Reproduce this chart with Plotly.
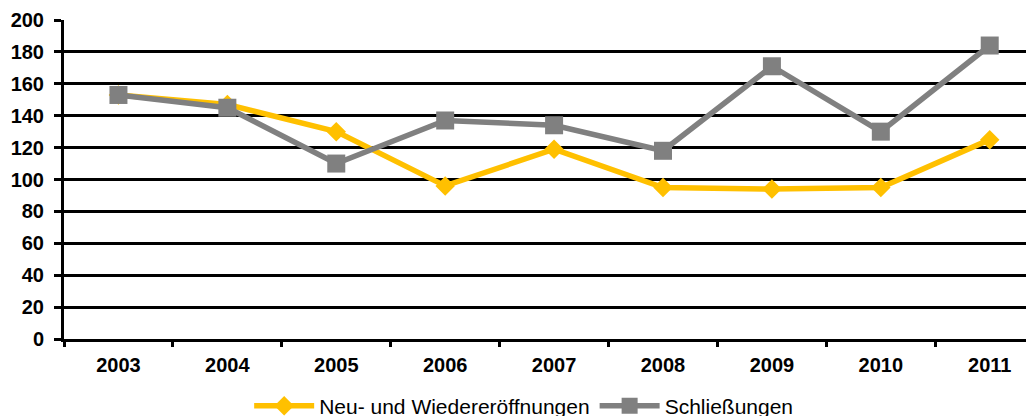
import plotly.graph_objects as go

years = ["2003", "2004", "2005", "2006", "2007", "2008", "2009", "2010", "2011"]
neu = [153, 147, 130, 96, 119, 95, 94, 95, 125]
schliess = [153, 145, 110, 137, 134, 118, 171, 130, 184]
y_ticks = list(range(0, 201, 20))

FONT = "Liberation Sans, Arial, sans-serif"

fig = go.Figure()
fig.add_trace(go.Scatter(
    x=years, y=neu, mode="lines+markers", name="Neu- und Wiedereröffnungen",
    line=dict(color="#FFC000", width=5.5),
    marker=dict(symbol="diamond", size=15, color="#FFC000"),
))
fig.add_trace(go.Scatter(
    x=years, y=schliess, mode="lines+markers", name="Schließungen",
    line=dict(color="#808080", width=5.5),
    marker=dict(symbol="square", size=18, color="#808080"),
))

fig.update_layout(
    width=1034, height=416,
    margin=dict(l=56, r=0, t=12, b=85, autoexpand=False),
    plot_bgcolor="white", paper_bgcolor="white",
    font=dict(family=FONT, color="black"),
    legend=dict(orientation="h", x=0.47, xanchor="center", y=-0.21, yanchor="middle",
                font=dict(size=21, family=FONT),
                itemwidth=60, tracegroupgap=0),
    showlegend=True,
)
fig.update_xaxes(
    type="category", tickson="boundaries", ticks="outside", ticklen=5,
    tickwidth=3, tickcolor="black", showgrid=False,
    showline=True, linecolor="black", linewidth=3,
    tickfont=dict(size=20, family=FONT, weight="bold"),
    ticklabelstandoff=6,
    range=[-0.5, 8.48],
)
fig.update_yaxes(
    range=[0, 200], tickvals=y_ticks, ticks="outside", ticklen=7, tickwidth=3,
    tickcolor="black", showgrid=True, gridcolor="black", gridwidth=3,
    showline=True, linecolor="black", linewidth=3, zeroline=False,
    tickfont=dict(size=20, family=FONT, weight="bold"),
    ticklabelstandoff=6,
)

fig.write_html("out.html")
